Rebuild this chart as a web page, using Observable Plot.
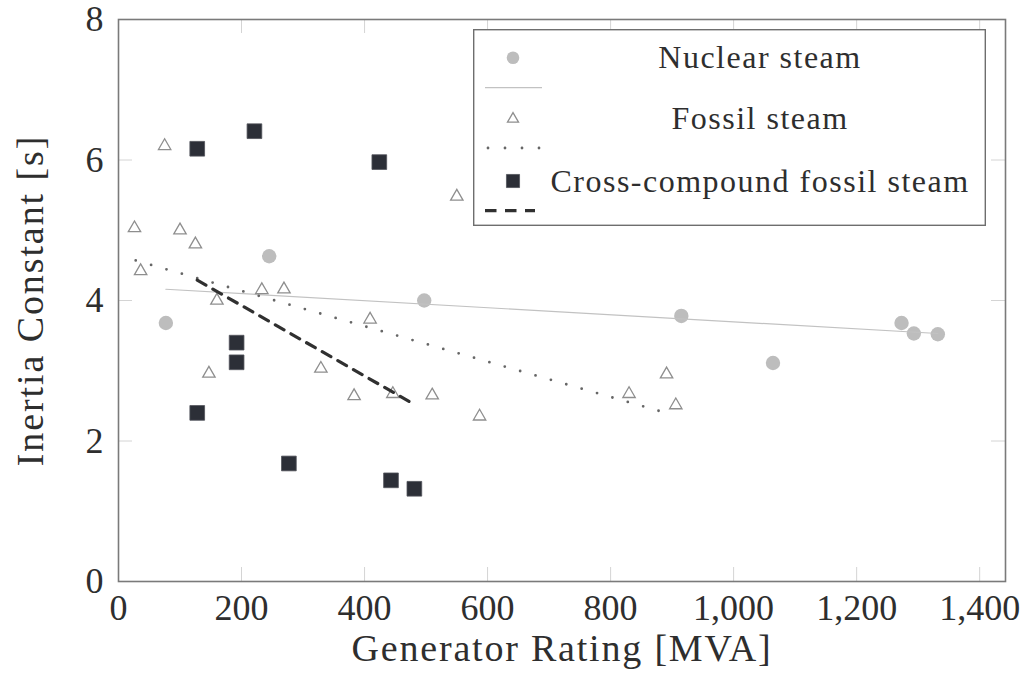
<!DOCTYPE html>
<html>
<head>
<meta charset="utf-8">
<script src="https://cdn.jsdelivr.net/npm/d3@7"></script>
<script src="https://cdn.jsdelivr.net/npm/@observablehq/plot@0.6"></script>
<style>
  body { margin: 0; background: #fff; }
  #wrap { position: relative; width: 1029px; height: 686px; }
  #legend { position: absolute; left: 473px; top: 29px; }
  .xlab text { letter-spacing: 1.8px; }
  .ylab text { letter-spacing: 1.9px; }
  .legtext { letter-spacing: 1.5px; }
</style>
</head>
<body>
<div id="wrap"></div>
<script>
// ---- data ----
const seriesNames = ["Nuclear steam", "Fossil steam", "Cross-compound fossil steam"];

const nuclearRating = [77, 245, 497, 915, 1064, 1273, 1293, 1332];
const nuclearH      = [3.68, 4.63, 4.00, 3.78, 3.11, 3.68, 3.53, 3.52];

const fossilRating = [26, 36, 75, 100, 125, 147, 160, 233, 269, 329, 383, 409, 446, 510, 550, 587, 830, 891, 906];
const fossilH      = [5.03, 4.42, 6.20, 5.00, 4.80, 2.96, 4.00, 4.15, 4.16, 3.03, 2.64, 3.73, 2.67, 2.65, 5.48, 2.35, 2.67, 2.95, 2.51];

const crossRating = [128, 128, 192, 192, 221, 277, 424, 443, 481];
const crossH      = [6.16, 2.40, 3.40, 3.12, 6.41, 1.68, 5.97, 1.44, 1.32];

// fitted trend lines (end points)
const nuclearFitX = [77, 1332],  nuclearFitY = [4.16, 3.53];
const fossilFitX  = [28, 886],   fossilFitY  = [4.57, 2.41];
const crossFitX   = [128, 481],  crossFitY   = [4.29, 2.52];

const xTicks = [0, 200, 400, 600, 800, 1000, 1200, 1400];
const yTicks = [0, 2, 4, 6, 8];
const xLabel = "Generator Rating [MVA]";
const yLabel = "Inertia Constant [s]";

// ---- tables ----
const zip = (xs, ys) => xs.map((x, i) => ({x, y: ys[i]}));
const nuclear = zip(nuclearRating, nuclearH);
const fossil = zip(fossilRating, fossilH);
const cross = zip(crossRating, crossH);
const nuclearFit = zip(nuclearFitX, nuclearFitY);
const fossilFit = zip(fossilFitX, fossilFitY);
const crossFit = zip(crossFitX, crossFitY);

const FONT = "'Liberation Serif', 'Times New Roman', serif";
const TEXT = "#2e2e2e";
const TICK = "#d4d4d4";

const cNuc = "#bdbdbd", cNucLine = "#c2c2c2";
const cFos = "#8e8e8e", cFosLine = "#666666";
const cCross = "#2c2f37", cCrossLine = "#303030";

const W = 1029, H = 686;
const mL = 118, mR = 24, mT = 19, mB = 105;
const frameW = W - mL - mR, frameH = H - mT - mB;
const tickLen = 14;

const chart = Plot.plot({
  width: W, height: H,
  marginLeft: mL, marginRight: mR, marginTop: mT, marginBottom: mB,
  x: {domain: [0, 1442]},
  y: {domain: [0, 8]},
  style: {fontFamily: FONT, fontSize: "36px", color: TEXT, background: "#fff"},
  marks: [
    // inward tick marks on all four sides
    Plot.ruleX(xTicks, {x: d => d, insetTop: frameH - tickLen, stroke: TICK, strokeWidth: 1}),
    Plot.ruleX(xTicks, {x: d => d, insetBottom: frameH - tickLen, stroke: TICK, strokeWidth: 1}),
    Plot.ruleY(yTicks, {y: d => d, insetRight: frameW - tickLen, stroke: TICK, strokeWidth: 1}),
    Plot.ruleY(yTicks, {y: d => d, insetLeft: frameW - tickLen, stroke: TICK, strokeWidth: 1}),

    // nuclear
    Plot.dot(nuclear, {x: "x", y: "y", r: 7.2, fill: cNuc, stroke: "none"}),
    Plot.line(nuclearFit, {x: "x", y: "y", stroke: cNucLine, strokeWidth: 1.2}),

    // fossil
    Plot.dot(fossil, {x: "x", y: "y", symbol: "triangle", r: 4.6, fill: "none", stroke: cFos, strokeWidth: 1.3}),
    Plot.line(fossilFit, {x: "x", y: "y", stroke: cFosLine, strokeWidth: 2.8, strokeDasharray: "0 16", strokeLinecap: "round"}),

    // cross-compound
    Plot.dot(cross, {x: "x", y: "y", symbol: "square", r: 8.3, fill: cCross, stroke: "#50535a", strokeWidth: 0.8}),
    Plot.line(crossFit, {x: "x", y: "y", stroke: cCrossLine, strokeWidth: 3.2, strokeDasharray: "10 8"}),

    Plot.frame({stroke: "#7a7a7a", strokeWidth: 1.6}),

    Plot.axisX({ticks: xTicks, tickSize: 0, tickPadding: 13, tickFormat: d3.format(","), label: null, fontSize: 36, fill: TEXT}),
    Plot.axisY({ticks: yTicks, tickSize: 0, tickPadding: 15, label: null, fontSize: 36, fill: TEXT}),

    Plot.text([xLabel], {text: d => d, frameAnchor: "bottom", dy: 79, fontSize: 38, fill: TEXT, textAnchor: "middle", className: "xlab"}),
    Plot.text([yLabel], {text: d => d, frameAnchor: "left", dx: -88, rotate: -90, fontSize: 38, fill: TEXT, textAnchor: "middle", lineAnchor: "middle", className: "ylab"})
  ]
});

const wrap = document.getElementById("wrap");
wrap.appendChild(chart);

// ---- legend (overlay box inside the plot area) ----
const LW = 513, LH = 197;
const leg = d3.select(wrap).append("svg")
  .attr("id", "legend")
  .attr("width", LW + 2).attr("height", LH + 2)
  .style("font-family", FONT);
leg.append("rect")
  .attr("x", 0.7).attr("y", 0.7).attr("width", LW - 1.4).attr("height", LH - 1.4)
  .attr("fill", "#fff").attr("stroke", "#6e6e6e").attr("stroke-width", 1.4);

const rowSym = [28.7, 89, 152];
const rowLine = [58.7, 119, 181.7];
const symX = 40, lineX1 = 12, lineX2 = 69, textX = 287;

const sym = (type, r) => d3.symbol(type, r * r * Math.PI)();
// symbols
leg.append("path").attr("d", sym(d3.symbolCircle, 6.3)).attr("transform", `translate(${symX},${rowSym[0]})`).attr("fill", cNuc);
leg.append("path").attr("d", sym(d3.symbolTriangle, 4.1)).attr("transform", `translate(${symX},${rowSym[1] + 1})`).attr("fill", "none").attr("stroke", cFos).attr("stroke-width", 1.3);
leg.append("path").attr("d", sym(d3.symbolSquare, 7.4)).attr("transform", `translate(${symX},${rowSym[2]})`).attr("fill", cCross).attr("stroke", "#50535a").attr("stroke-width", 0.8);
// line samples
leg.append("line").attr("x1", lineX1).attr("x2", lineX2).attr("y1", rowLine[0]).attr("y2", rowLine[0]).attr("stroke", cNucLine).attr("stroke-width", 1.3);
leg.append("line").attr("x1", lineX1 + 3).attr("x2", lineX2).attr("y1", rowLine[1]).attr("y2", rowLine[1]).attr("stroke", cFosLine).attr("stroke-width", 2.8).attr("stroke-dasharray", "0 17").attr("stroke-linecap", "round");
leg.append("line").attr("x1", lineX1).attr("x2", lineX2 - 7).attr("y1", rowLine[2]).attr("y2", rowLine[2]).attr("stroke", cCrossLine).attr("stroke-width", 3.2).attr("stroke-dasharray", "11.5 8.5");
// labels
seriesNames.forEach((name, i) => {
  leg.append("text")
    .attr("class", "legtext")
    .attr("x", textX).attr("y", rowSym[i])
    .attr("dy", "0.33em")
    .attr("text-anchor", "middle")
    .attr("font-size", 32)
    .attr("fill", TEXT)
    .text(name);
});
</script>
</body>
</html>
